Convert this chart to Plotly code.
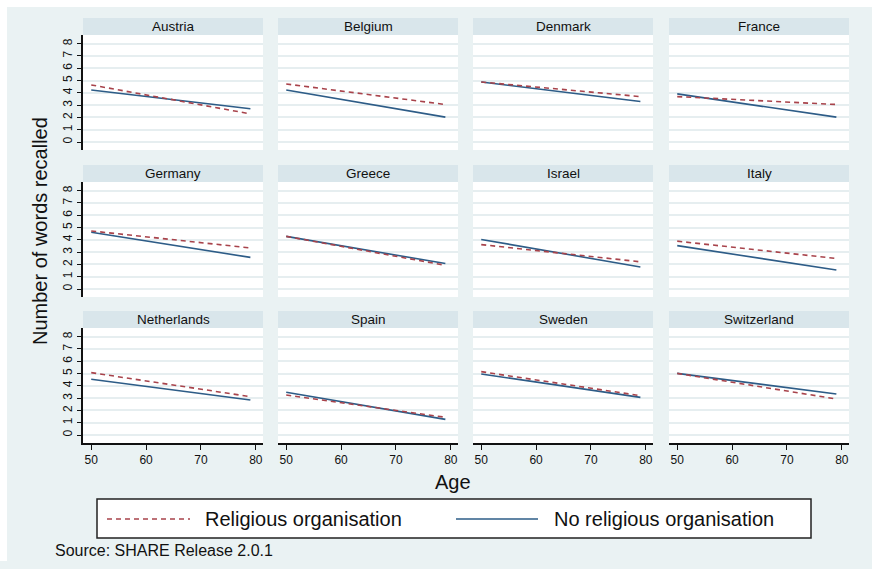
import plotly.graph_objects as go

# ---------------- data ----------------
countries = ["Austria", "Belgium", "Denmark", "France",
             "Germany", "Greece", "Israel", "Italy",
             "Netherlands", "Spain", "Sweden", "Switzerland"]
ages = [50, 79]
religious_start = [4.64, 4.72, 4.88, 3.69, 4.72, 4.28, 3.61, 3.89, 5.07, 3.25, 5.15, 5.01]
religious_end = [2.29, 3.05, 3.69, 3.05, 3.34, 1.93, 2.21, 2.48, 3.12, 1.44, 3.20, 2.93]
nonreligious_start = [4.23, 4.23, 4.88, 3.91, 4.61, 4.28, 4.03, 3.53, 4.53, 3.47, 4.96, 5.01]
nonreligious_end = [2.70, 2.02, 3.29, 2.02, 2.57, 2.07, 1.79, 1.54, 2.85, 1.27, 3.06, 3.33]
x_ticks = [50, 60, 70, 80]
y_ticks = [0, 1, 2, 3, 4, 5, 6, 7, 8]
legend_labels = ["Religious organisation", "No religious organisation"]

# ---------------- styling ----------------
W, H = 872, 561
BG = "#EAF2F3"
STRIP = "#D9E6EB"
GRID = "#E6EEF0"
RED = "#A8434B"
BLUE = "#2D5C87"
FONT = "Liberation Sans"

col_left = [83, 278, 473, 669]
col_w = 180
row_top = [18, 165, 311]
strip_h = 17
plot_h = 115


def px(x):
    return x / W


def py(y):
    return 1 - y / H


fig = go.Figure()
shapes = []
annotations = []

for i, c in enumerate(countries):
    r, k = divmod(i, 4)
    n = i + 1
    xa = "x" if n == 1 else f"x{n}"
    ya = "y" if n == 1 else f"y{n}"
    x0 = col_left[k]
    x1 = x0 + col_w
    st = row_top[r]
    pt = st + strip_h
    pb = pt + plot_h

    fig.add_trace(go.Scatter(x=ages, y=[nonreligious_start[i], nonreligious_end[i]],
                             mode="lines", line=dict(color=BLUE, width=1.6),
                             xaxis=xa, yaxis=ya, showlegend=False,
                             name=legend_labels[1]))
    fig.add_trace(go.Scatter(x=ages, y=[religious_start[i], religious_end[i]],
                             mode="lines", line=dict(color=RED, width=1.6, dash="5px,4px"),
                             xaxis=xa, yaxis=ya, showlegend=False,
                             name=legend_labels[0]))

    bottom = r == 2
    left = k == 0
    fig.update_layout(**{
        ("xaxis" if n == 1 else f"xaxis{n}"): dict(
            domain=[px(x0), px(x1)], anchor=ya, range=[48.5, 81.3],
            tickvals=x_ticks, showticklabels=bottom, ticks="outside" if bottom else "",
            ticklen=5, tickwidth=1.3, tickcolor="#111",
            showline=bottom, linecolor="#111", linewidth=1.5,
            showgrid=False, zeroline=False,
            tickfont=dict(family=FONT, size=12, color="#111")),
        ("yaxis" if n == 1 else f"yaxis{n}"): dict(
            domain=[py(pb), py(pt)], anchor=xa, range=[-0.65, 8.7],
            tickvals=y_ticks, showticklabels=left, ticks="outside" if left else "",
            ticklen=4, tickwidth=1.3, tickcolor="#111", tickangle=-90,
            showline=left, linecolor="#111", linewidth=1.5,
            showgrid=True, gridcolor=GRID, gridwidth=1.5, zeroline=False,
            tickfont=dict(family=FONT, size=12, color="#111")),
    })

    # strip header
    shapes.append(dict(type="rect", xref="paper", yref="paper",
                       x0=px(x0), x1=px(x1), y0=py(pt), y1=py(st),
                       fillcolor=STRIP, line=dict(width=0), layer="below"))
    annotations.append(dict(text=c, xref="paper", yref="paper",
                            x=px((x0 + x1) / 2), y=py(st + strip_h / 2),
                            xanchor="center", yanchor="middle", showarrow=False,
                            font=dict(family=FONT, size=13.5, color="#111")))

# white outer border on top and left
shapes.append(dict(type="rect", xref="paper", yref="paper", x0=0, x1=1, y0=py(7), y1=1,
                   fillcolor="white", line=dict(width=0), layer="below"))
shapes.append(dict(type="rect", xref="paper", yref="paper", x0=0, x1=px(7), y0=0, y1=1,
                   fillcolor="white", line=dict(width=0), layer="below"))

# legend box
shapes.append(dict(type="rect", xref="paper", yref="paper",
                   x0=px(97), x1=px(811), y0=py(538), y1=py(499),
                   fillcolor="white", line=dict(color="#222", width=1.5)))
shapes.append(dict(type="line", xref="paper", yref="paper",
                   x0=px(107), x1=px(190), y0=py(519), y1=py(519),
                   line=dict(color=RED, width=1.6, dash="5px,4px")))
shapes.append(dict(type="line", xref="paper", yref="paper",
                   x0=px(456), x1=px(538), y0=py(519), y1=py(519),
                   line=dict(color=BLUE, width=1.6)))
annotations.append(dict(text=legend_labels[0], xref="paper", yref="paper",
                        x=px(203), y=py(519), xanchor="left", yanchor="middle",
                        showarrow=False, font=dict(family=FONT, size=20, color="#111")))
annotations.append(dict(text=legend_labels[1], xref="paper", yref="paper",
                        x=px(552), y=py(519), xanchor="left", yanchor="middle",
                        showarrow=False, font=dict(family=FONT, size=20, color="#111")))

# axis titles and note
annotations.append(dict(text="Number of words recalled", xref="paper", yref="paper",
                        x=px(40), y=py(231), xanchor="center", yanchor="middle",
                        textangle=-90, showarrow=False,
                        font=dict(family=FONT, size=20, color="#111")))
annotations.append(dict(text="Age", xref="paper", yref="paper",
                        x=px(453), y=py(482), xanchor="center", yanchor="middle",
                        showarrow=False, font=dict(family=FONT, size=20, color="#111")))
annotations.append(dict(text="Source: SHARE Release 2.0.1", xref="paper", yref="paper",
                        x=px(53), y=py(550), xanchor="left", yanchor="middle",
                        showarrow=False, font=dict(family=FONT, size=16, color="#111")))

fig.update_layout(width=W, height=H, autosize=False,
                  margin=dict(l=0, r=0, t=0, b=0),
                  paper_bgcolor=BG, plot_bgcolor="white",
                  shapes=shapes, annotations=annotations, showlegend=False)

fig.write_html("out.html",
               config={"displayModeBar": False},
               post_script="document.body.style.margin='0';"
                           "document.body.style.background='" + BG + "';"
                           "document.documentElement.style.background='" + BG + "';"
                           "document.documentElement.style.overflow='hidden';"
                           "document.body.style.overflow='hidden';")
